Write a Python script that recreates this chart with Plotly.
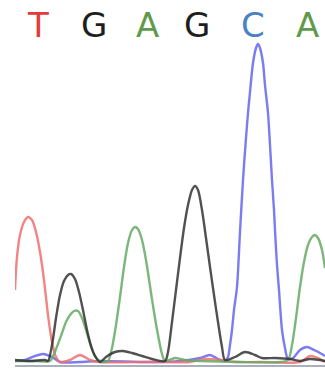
import plotly.graph_objects as go

# Base calls shown above the trace
bases = ["T", "G", "A", "G", "C", "A"]
base_pos = [38, 94, 147, 197, 253, 307]
base_colors = ["#e23b3b", "#1e1e1e", "#5f9a4c", "#1e1e1e", "#4a82c4", "#5f9a4c"]

# Chromatogram traces: scan position and signal intensity
red_x = [15, 17, 20, 24, 28, 32, 36, 40, 44, 48, 52, 56, 60, 70, 80, 90, 100, 150, 190, 205, 220, 235, 260, 300, 310, 318, 325]
red_y = [72, 105, 127, 140, 145, 142, 130, 110, 82, 47, 20, 5, 0, 2, 7, 2, 0, 0, 0, 3, 2, 0, 0, 0, 6, 4, 0]

black_x = [15, 30, 45, 48, 52, 56, 60, 64, 68, 71, 75, 79, 83, 87, 91, 95, 100, 106, 115, 123, 132, 142, 152,
           165, 168, 172, 176, 180, 184, 188, 192, 195, 198, 202, 206, 210, 214, 218, 222, 225,
           235, 245, 255, 262, 275, 290, 300, 310, 325]
black_y = [2, 1, 2, 1, 17, 44, 67, 81, 87, 88, 83, 70, 52, 32, 16, 6, 0, 5, 10, 11, 9, 6, 3,
           1, 10, 40, 72, 104, 134, 157, 172, 176, 172, 152, 124, 95, 67, 40, 15, 2,
           5, 10, 7, 4, 4, 3, 1, 3, 1]

green_x = [15, 35, 50, 54, 58, 62, 66, 70, 74, 78, 82, 86, 90, 94, 98, 103,
           108, 112, 116, 120, 124, 128, 132, 135, 138, 142, 146, 150, 154, 158, 162, 165,
           175, 185, 200, 240, 280, 288, 292, 296, 300, 304, 308, 312, 315, 318, 322, 325]
green_y = [1, 1, 1, 8, 18, 29, 40, 47, 51, 51, 44, 32, 19, 8, 2, 0,
           1, 14, 37, 65, 95, 119, 132, 135, 133, 122, 102, 76, 50, 27, 8, 1,
           4, 2, 1, 0, 0, 2, 17, 44, 75, 100, 117, 125, 127, 124, 112, 94]

blue_x = [15, 25, 35, 43, 52, 60, 80, 100, 150, 180, 200, 210, 218, 225, 228, 230, 232, 234, 237, 240, 243,
          246, 248, 250, 253, 256, 258, 260, 263, 265, 268, 270, 272, 274, 275, 277, 279, 282, 285, 288,
          293, 300, 307, 314, 320, 325]
blue_y = [1, 2, 6, 8, 5, 0, 0, 1, 0, 1, 4, 7, 3, 1, 5, 17, 32, 52, 75, 130, 182, 224, 249, 270, 299, 314, 318,
          314, 299, 277, 249, 217, 182, 152, 132, 97, 72, 32, 14, 3, 4, 12, 15, 12, 9, 6]

fig = go.Figure()
traces = [
    (blue_x, blue_y, "rgba(100,100,240,0.85)"),
    (red_x, red_y, "rgba(240,110,110,0.85)"),
    (green_x, green_y, "rgba(100,170,100,0.85)"),
    (black_x, black_y, "rgba(50,50,50,0.85)"),
]
for xs, ys, col in traces:
    fig.add_trace(go.Scatter(x=xs, y=ys, mode="lines",
                             line=dict(color=col, width=2.4, shape="spline", smoothing=0.8),
                             hoverinfo="skip", showlegend=False))

for b, xp, c in zip(bases, base_pos, base_colors):
    fig.add_annotation(x=xp, y=337, text=b, showarrow=False,
                       font=dict(family="DejaVu Sans", size=34, color=c),
                       xanchor="center", yanchor="middle")

fig.update_layout(
    width=325, height=369,
    margin=dict(l=15, r=0, t=0, b=4),
    paper_bgcolor="white", plot_bgcolor="white",
    xaxis=dict(range=[15, 325], visible=True, showgrid=False, zeroline=False,
               showticklabels=False, ticks="", showline=True, linecolor="#a8b0c0", linewidth=2),
    yaxis=dict(range=[-3, 362], showgrid=False, zeroline=False, showticklabels=False,
               ticks="", showline=False),
)
fig.write_html("out.html", config={"displayModeBar": False},
               post_script="document.body.style.margin='0px';document.body.style.padding='0px';")
